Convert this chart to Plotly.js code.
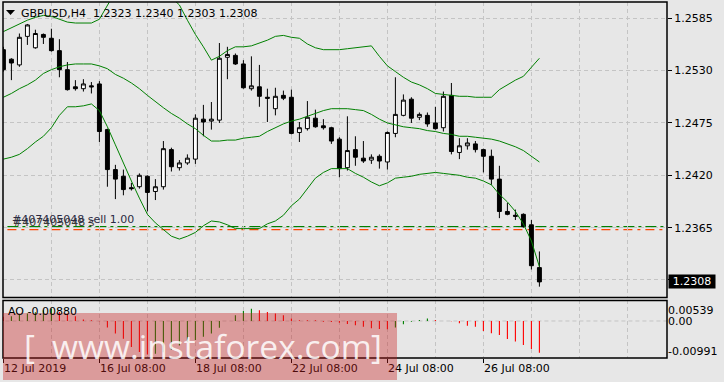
<!DOCTYPE html>
<html><head><meta charset="utf-8">
<script src="https://cdn.plot.ly/plotly-3.0.1.min.js"></script>
<style>html,body{margin:0;padding:0;background:#e7e7e7;}#chart{width:724px;height:382px;}</style>
</head><body><div id="chart"></div>
<script>
const symbolTitle = 'GBPUSD,H4\u00a0\u00a01.2323 1.2340 1.2303 1.2308';
const xTickIdx = [0, 12, 24, 36, 48, 60];
const xTickText = ['12 Jul 2019', '16 Jul 08:00', '18 Jul 08:00', '22 Jul 08:00', '24 Jul 08:00', '26 Jul 08:00'];
const xMinorGrid = [6, 18, 30, 42, 54, 66, 72, 78];
const priceTicks = [1.2585, 1.2530, 1.2475, 1.2420, 1.2365, 1.2310];
const priceTickText = ['1.2585', '1.2530', '1.2475', '1.2420', '1.2365', ''];
const aoTickVals = [0.00306, 0, -0.00833];
const aoTickText = ['0.00539', '0.00', '-0.00991'];
const aoLabel = 'AO -0.00880';
const orderLabel = '#407405048 sell 1.00';
const orderLabel2 = '#407405048 s';
const watermark = ['[', 'www.instaforex.com', ']'];
const stopPrice = 1.2366;
const entryPrice = 1.2363;

const openP = [1.2552,1.2542,1.2536,1.2566,1.2554,1.2568,1.2564,1.2551,1.2531,1.2513,
1.2511,1.2514,1.2516,1.2468,1.2426,1.2419,1.2407,1.2408,1.2419,1.2403,
1.2408,1.2447,1.2428,1.2433,1.2437,1.2479,1.2477,1.2478,1.2544,1.2546,
1.2537,1.2511,1.2513,1.2502,1.2490,1.2504,1.2502,1.2465,1.2469,1.2480,
1.2472,1.2470,1.2458,1.2428,1.2447,1.2438,1.2436,1.2440,1.2434,1.2464,
1.2483,1.2500,1.2481,1.2483,1.2475,1.2470,1.2504,1.2444,1.2451,1.2453,
1.2447,1.2440,1.2416,1.2382,1.2378,1.2379,1.2368,1.2323];
const highP = [1.2555,1.2543,1.2569,1.2579,1.2573,1.2569,1.2574,1.2563,1.2539,1.2520,
1.2521,1.2518,1.2519,1.2469,1.2431,1.2426,1.2412,1.2422,1.2420,1.2416,
1.2456,1.2449,1.2436,1.2442,1.2484,1.2494,1.2497,1.2559,1.2555,1.2548,
1.2541,1.2545,1.2536,1.2511,1.2512,1.2509,1.2510,1.2476,1.2498,1.2489,
1.2479,1.2471,1.2460,1.2482,1.2461,1.2456,1.2442,1.2442,1.2466,1.2523,
1.2505,1.2502,1.2486,1.2486,1.2492,1.2508,1.2517,1.2459,1.2459,1.2456,
1.2448,1.2447,1.2430,1.2391,1.2384,1.2380,1.2373,1.2340];
const lowP = [1.2529,1.2520,1.2534,1.2557,1.2553,1.2558,1.2550,1.2523,1.2509,1.2509,
1.2508,1.2506,1.2455,1.2408,1.2395,1.2399,1.2404,1.2406,1.2382,1.2394,
1.2405,1.2424,1.2425,1.2431,1.2432,1.2461,1.2468,1.2475,1.2521,1.2536,
1.2511,1.2509,1.2492,1.2476,1.2483,1.2499,1.2463,1.2455,1.2467,1.2470,
1.2468,1.2453,1.2418,1.2425,1.2430,1.2433,1.2432,1.2427,1.2426,1.2460,
1.2482,1.2475,1.2478,1.2471,1.2468,1.2466,1.2442,1.2437,1.2447,1.2444,
1.2423,1.2410,1.2375,1.2378,1.2373,1.2365,1.2321,1.2303];
const closeP = [1.2531,1.2538,1.2565,1.2578,1.2569,1.2565,1.2551,1.2531,1.2510,1.2511,
1.2516,1.2513,1.2466,1.2426,1.2416,1.2405,1.2406,1.2420,1.2402,1.2408,
1.2448,1.2429,1.2433,1.2438,1.2480,1.2476,1.2479,1.2543,1.2547,1.2537,
1.2512,1.2514,1.2503,1.2501,1.2503,1.2501,1.2464,1.2470,1.2481,1.2471,
1.2470,1.2456,1.2427,1.2446,1.2439,1.2435,1.2439,1.2435,1.2465,1.2484,
1.2499,1.2480,1.2484,1.2474,1.2469,1.2503,1.2445,1.2451,1.2454,1.2447,
1.2440,1.2416,1.2382,1.2379,1.2377,1.2366,1.2325,1.2308];

const bbUpper = [1.2571,1.2575,1.2579,1.2583,1.2586,1.2588,1.2587,1.2584,1.2581,1.2580,
1.2580,1.2580,1.2584,1.2599,1.2613,1.2623,1.2629,1.2632,1.2630,1.2625,
1.2617,1.2607,1.2599,1.2583,1.2568,1.2555,1.2541,1.2545,1.2551,1.2555,
1.2555,1.2556,1.2559,1.2562,1.2566,1.2567,1.2565,1.2564,1.2558,1.2554,
1.2552,1.2552,1.2552,1.2553,1.2554,1.2555,1.2556,1.2545,1.2535,1.2529,
1.2523,1.2518,1.2515,1.2511,1.2506,1.2505,1.2504,1.2503,1.2503,1.2502,
1.2502,1.2502,1.2510,1.2515,1.2520,1.2524,1.2533,1.2543];
const bbMiddle = [1.2502,1.2506,1.2511,1.2515,1.2520,1.2527,1.2531,1.2534,1.2536,1.2537,
1.2537,1.2537,1.2535,1.2532,1.2526,1.2522,1.2517,1.2511,1.2504,1.2497,
1.2491,1.2485,1.2480,1.2474,1.2469,1.2462,1.2456,1.2456,1.2457,1.2457,
1.2459,1.2460,1.2461,1.2466,1.2470,1.2474,1.2477,1.2479,1.2482,1.2485,
1.2488,1.2490,1.2490,1.2490,1.2489,1.2488,1.2484,1.2479,1.2475,1.2473,
1.2471,1.2470,1.2469,1.2467,1.2466,1.2464,1.2463,1.2461,1.2461,1.2460,
1.2459,1.2458,1.2456,1.2453,1.2450,1.2446,1.2440,1.2434];
const bbLower = [1.2437,1.2439,1.2442,1.2448,1.2455,1.2461,1.2470,1.2483,1.2492,1.2492,
1.2493,1.2495,1.2488,1.2471,1.2452,1.2432,1.2414,1.2396,1.2379,1.2370,
1.2363,1.2356,1.2353,1.2356,1.2360,1.2367,1.2372,1.2371,1.2368,1.2364,
1.2364,1.2364,1.2364,1.2369,1.2372,1.2378,1.2388,1.2395,1.2406,1.2417,
1.2423,1.2427,1.2427,1.2427,1.2422,1.2418,1.2413,1.2409,1.2412,1.2417,
1.2418,1.2419,1.2421,1.2422,1.2423,1.2422,1.2421,1.2420,1.2418,1.2417,
1.2414,1.2410,1.2400,1.2392,1.2382,1.2369,1.2351,1.2324];

const aoValues = [0.0012,0.0013,0.0018,0.0021,0.0024,0.0030,0.0034,0.0025,0.0020,0.0013,
0.0004,0.0002,-0.0001,-0.0018,-0.0035,-0.0049,-0.0072,-0.0086,-0.0093,-0.0091,
-0.0087,-0.0080,-0.0068,-0.0058,-0.0053,-0.0044,-0.0035,-0.0019,0.0000,0.0016,
0.0028,0.0034,0.0030,0.0025,0.0021,0.0016,0.0007,0.0002,0.0002,0.0002,
-0.0002,-0.0003,-0.0005,-0.0008,-0.0012,-0.0016,-0.0020,-0.0022,-0.0023,-0.0018,
-0.0009,-0.0002,0.0003,0.0007,0.0003,0.0000,-0.0001,-0.0006,-0.0013,-0.0016,
-0.0028,-0.0034,-0.0039,-0.0050,-0.0057,-0.0067,-0.0078,-0.0088];

const idx = openP.map((_, i) => i);
const aoColors = aoValues.map((v, i) => (i > 0 && v > aoValues[i - 1]) ? '#008000' : '#ff0000');
const lastClose = closeP[closeP.length - 1];

const font = {family: 'DejaVu Sans', size: 11, color: '#000'};
const gridCol = '#c4c4c4';
const bandLine = {color: '#008000', width: 1};
const wmFont = {family: 'Open Sans', size: 33.5, color: 'rgba(255,255,255,0.85)'};

const traces = [
  {type: 'scatter', mode: 'lines', x: idx, y: bbUpper, line: bandLine, hoverinfo: 'skip'},
  {type: 'scatter', mode: 'lines', x: idx, y: bbMiddle, line: bandLine, hoverinfo: 'skip'},
  {type: 'scatter', mode: 'lines', x: idx, y: bbLower, line: bandLine, hoverinfo: 'skip'},
  {type: 'candlestick', x: idx, open: openP, high: highP, low: lowP, close: closeP,
   increasing: {line: {color: '#000', width: 1}, fillcolor: '#ffffff'},
   decreasing: {line: {color: '#000', width: 1}, fillcolor: '#000000'},
   whiskerwidth: 0, hoverinfo: 'skip'},
  {type: 'bar', x: idx, y: aoValues, yaxis: 'y2', width: 0.14,
   marker: {color: aoColors, line: {width: 0}}, hoverinfo: 'skip'}
];

const layout = {
  width: 724, height: 382,
  margin: {l: 3, r: 57, t: 2, b: 24},
  paper_bgcolor: '#e7e7e7', plot_bgcolor: '#e7e7e7',
  showlegend: false, hovermode: false, font: font,
  boxgap: 0.3,
  xaxis: {
    range: [-0.05, 82.95], anchor: 'y2', domain: [0, 1],
    tickvals: xTickIdx, ticktext: xTickText, ticklabelposition: 'outside right',
    ticks: 'outside', ticklen: 4, tickcolor: '#000', tickfont: font,
    showgrid: true, gridcolor: gridCol, griddash: '4px,3px', gridwidth: 1,
    minor: {tickvals: xMinorGrid, showgrid: true, gridcolor: gridCol, griddash: '4px,3px', ticks: ''},
    zeroline: false, showline: false, rangeslider: {visible: false}
  },
  yaxis: {
    domain: [0.16994, 1], range: [1.22916, 1.26021], side: 'right', anchor: 'x',
    tickvals: priceTicks, ticktext: priceTickText, ticks: 'outside', ticklen: 4, tickcolor: '#000',
    tickfont: font, showgrid: true, gridcolor: gridCol, griddash: '4px,3px', zeroline: false
  },
  yaxis2: {
    domain: [0, 0.16152], range: [-0.010278, 0.005694], side: 'right', anchor: 'x',
    tickvals: aoTickVals, ticktext: aoTickText, ticks: '', tickfont: font,
    showgrid: false, zeroline: false
  },
  shapes: [
    {type: 'line', xref: 'x', yref: 'y2', x0: -5, x1: 100, y0: 0, y1: 0, layer: 'below',
     line: {color: gridCol, width: 1, dash: '4px,3px'}},
    {type: 'line', xref: 'x', yref: 'y', x0: -5, x1: 100, y0: stopPrice, y1: stopPrice, layer: 'below',
     line: {color: '#008000', width: 1.3, dash: '11px,4px,3px,4px'}},
    {type: 'line', xref: 'x', yref: 'y', x0: -5, x1: 100, y0: entryPrice, y1: entryPrice, layer: 'below',
     line: {color: '#ff4500', width: 1.3, dash: '9px,5px,3px,5px'}},
    {type: 'rect', xref: 'paper', yref: 'y domain', x0: 0, x1: 1, y0: 0, y1: 1, layer: 'above',
     line: {color: '#000', width: 1.5}, fillcolor: 'rgba(0,0,0,0)'},
    {type: 'rect', xref: 'paper', yref: 'y2 domain', x0: 0, x1: 1, y0: 0, y1: 1, layer: 'above',
     line: {color: '#000', width: 1.5}, fillcolor: 'rgba(0,0,0,0)'},
    {type: 'path', xref: 'paper', yref: 'paper', layer: 'above',
     path: 'M 0.0045,0.9775 L 0.0181,0.9775 L 0.0113,0.9635 Z', fillcolor: '#000', line: {width: 0}},
    {type: 'rect', xref: 'paper', yref: 'paper', x0: 0, x1: 0.5934, y0: -0.062, y1: 0.1265, layer: 'above',
     fillcolor: 'rgba(200,30,30,0.375)', line: {width: 0}}
  ],
  annotations: [
    {xref: 'paper', yref: 'paper', x: 0.0256, y: 0.9677, xanchor: 'left', yanchor: 'middle',
     text: symbolTitle, showarrow: false, font: font, borderpad: 0},
    {xref: 'paper', yref: 'paper', x: 0.006, y: 0.1306, xanchor: 'left', yanchor: 'middle',
     text: aoLabel, showarrow: false, font: font, borderpad: 0},
    {xref: 'paper', yref: 'paper', x: 0.013, y: 0.3801, xanchor: 'left', yanchor: 'middle',
     text: orderLabel2, showarrow: false, font: {family: 'DejaVu Sans', size: 11, color: '#3a3a3a'}, borderpad: 0},
    {xref: 'paper', yref: 'paper', x: 0.012, y: 0.3896, xanchor: 'left', yanchor: 'middle',
     text: orderLabel, showarrow: false, font: {family: 'DejaVu Sans', size: 11, color: '#2b2b44'}, borderpad: 0},
    {xref: 'paper', yref: 'y', x: 1, xshift: 1, y: lastClose, xanchor: 'left', yanchor: 'middle',
     text: lastClose.toFixed(4), showarrow: false, bgcolor: '#000', width: 46, height: 13, borderpad: 0,
     font: {family: 'DejaVu Sans', size: 11, color: '#fff'}},
    {xref: 'paper', yref: 'paper', x: 0.030, y: 0.035, xanchor: 'left', yanchor: 'middle',
     text: watermark[0], showarrow: false, font: wmFont, borderpad: 0},
    {xref: 'paper', yref: 'paper', x: 0.073, y: 0.035, xanchor: 'left', yanchor: 'middle',
     text: watermark[1], showarrow: false, font: wmFont, borderpad: 0},
    {xref: 'paper', yref: 'paper', x: 0.553, y: 0.035, xanchor: 'left', yanchor: 'middle',
     text: watermark[2], showarrow: false, font: wmFont, borderpad: 0}
  ]
};

Plotly.newPlot('chart', traces, layout, {staticPlot: true, displayModeBar: false});
</script>
</body></html>
